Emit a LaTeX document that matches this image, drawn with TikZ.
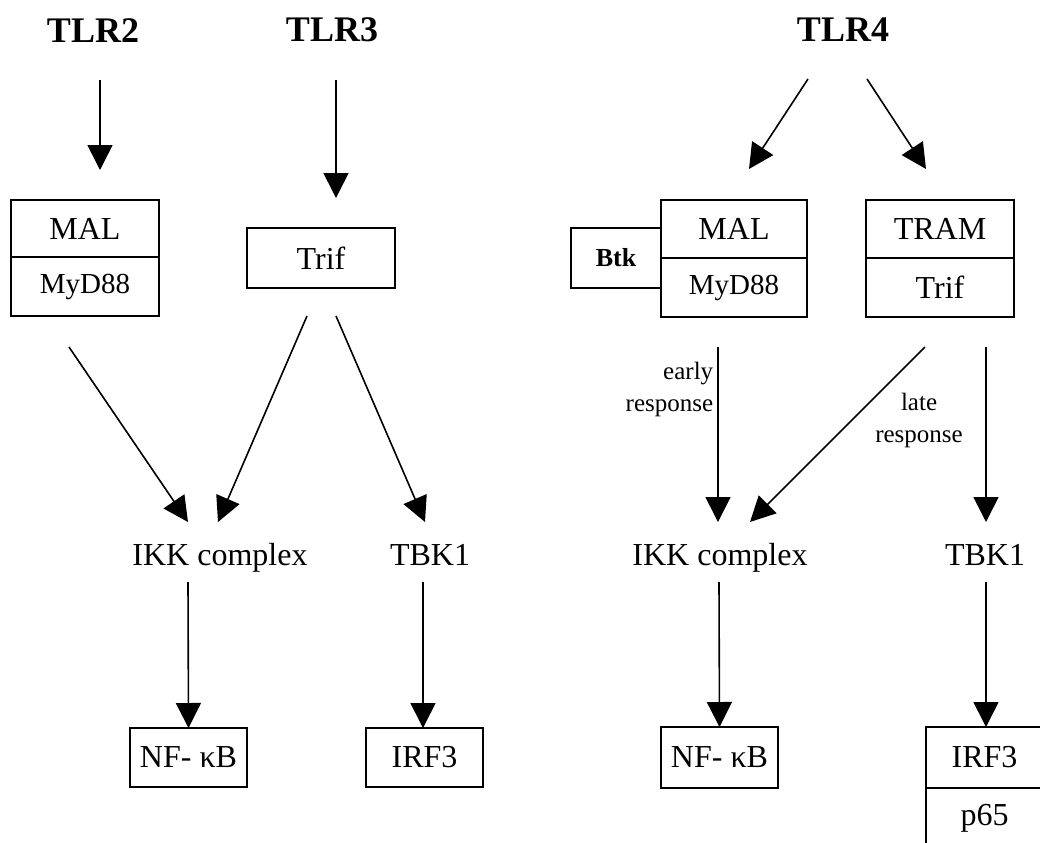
\documentclass[tikz,border=0pt]{standalone}
\usepackage{fontspec}
\setmainfont{Liberation Serif}
\usepackage{tikz}
\usetikzlibrary{calc,positioning,arrows.meta}

\begin{document}
\begin{tikzpicture}[x=0.5pt,y=-0.5pt,
  box/.style={draw,line width=1pt,inner sep=0pt,outer sep=0pt,font=\fontsize{16}{19}\selectfont},
  plain/.style={inner sep=0pt,anchor=base,font=\fontsize{16}{19}\selectfont},
  title/.style={inner sep=0pt,font=\fontsize{18}{22}\selectfont\bfseries},
  note/.style={inner sep=2pt,font=\fontsize{12.5}{16}\selectfont},
  arr/.style={-{Triangle[length=12.5pt,width=12.5pt]},line width=0.8pt}]

  \useasboundingbox (0,0) rectangle (1040,842);

  % Receptors
  \node[title] (tlrtwo) at (93,31) {TLR2};
  \node[title] (tlrthree) at (332,30) {TLR3};
  \node[title] (tlrfour) at (843,30) {TLR4};

  % TLR2 / TLR3 adaptors
  \node[box,minimum width=74pt,minimum height=28.5pt] (malA) at (85,228.5) {MAL};
  \node[box,minimum width=74pt,minimum height=29.5pt,below=0pt of malA,font=\fontsize{14.5}{17}\selectfont] (mydA) {MyD88};
  \node[box,minimum width=74pt,minimum height=30pt] (trifA) at (321,258) {Trif};

  % Kinases (left)
  \node[plain] (ikkA) at (220,565) {IKK complex};
  \node[plain] (tbkA) at (430,565) {TBK1};

  % Transcription factors (left)
  \node[box,minimum width=58.5pt,minimum height=29.5pt] (nfkA) at (188.5,757.5) {NF- κB};
  \node[box,minimum width=58.5pt,minimum height=29.5pt] (irfA) at (424.5,757.5) {IRF3};

  % TLR4 adaptors
  \node[box,minimum width=73pt,minimum height=29pt] (malB) at (734,229) {MAL};
  \node[box,minimum width=73pt,minimum height=29.5pt,below=0pt of malB,font=\fontsize{14.5}{17}\selectfont] (mydB) {MyD88};
  \node[box,minimum width=45pt,minimum height=30pt,anchor=east,font=\fontsize{13}{16}\selectfont\bfseries] (btk) at (malB.south west) {Btk};
  \node[box,minimum width=74pt,minimum height=29pt] (tram) at (940,229) {TRAM};
  \node[box,minimum width=74pt,minimum height=29.5pt,below=0pt of tram] (trifB) {Trif};

  % Kinases (right)
  \node[plain] (ikkB) at (720,565) {IKK complex};
  \node[plain] (tbkB) at (985,565) {TBK1};

  % Transcription factors (right)
  \node[box,minimum width=58.5pt,minimum height=30.5pt] (nfkB) at (719.5,757.5) {NF- κB};
  \node[box,minimum width=58.5pt,minimum height=30.5pt] (irfB) at (984.5,757.5) {IRF3};
  \node[box,minimum width=58.5pt,minimum height=30.5pt,below=0pt of irfB] (pcell) {p65};

  % Arrows, left half
  \draw[arr] ($(tlrtwo)+(7,49)$) -- ($(malA.north)+(15,-30)$);
  \draw[arr] ($(tlrthree)+(4,50)$) -- ($(trifA.north)+(15,-30)$);
  \draw[arr] ($(mydA.south)+(-16,31)$) -- ($(ikkA.base)+(-32,-43)$);
  \draw[arr] ($(trifA.south)+(-14,28)$) -- ($(ikkA.base)+(-2,-43)$);
  \draw[arr] ($(trifA.south)+(15,28)$) -- ($(tbkA.base)+(-5,-43)$);
  \draw[arr] ($(ikkA.base)+(-32,17)$) -- (nfkA.north);
  \draw[arr] ($(tbkA.base)+(-7,17)$) -- ($(irfA.north)+(-1.5,0)$);

  % Arrows, right half
  \draw[arr] ($(tlrfour)+(-35,49)$) -- ($(malB.north)+(15,-31)$);
  \draw[arr] ($(tlrfour)+(24,49)$) -- ($(tram.north)+(-14,-31)$);
  \draw[arr] ($(mydB.south)+(-16,30)$) -- node[note,pos=0.24,left,align=right] {early\\response} ($(ikkB.base)+(-2,-43)$);
  \draw[arr] ($(trifB.south)+(-15,30)$) -- node[note,pos=0.42,right,xshift=9.5pt,align=center] {late\\response} ($(ikkB.base)+(30,-43)$);
  \draw[arr] ($(trifB.south)+(46,30)$) -- ($(tbkB.base)+(1,-43)$);
  \draw[arr] ($(ikkB.base)+(-1,17)$) -- (nfkB.north);
  \draw[arr] ($(tbkB.base)+(1,17)$) -- ($(irfB.north)+(1.5,0)$);

\end{tikzpicture}
\end{document}
